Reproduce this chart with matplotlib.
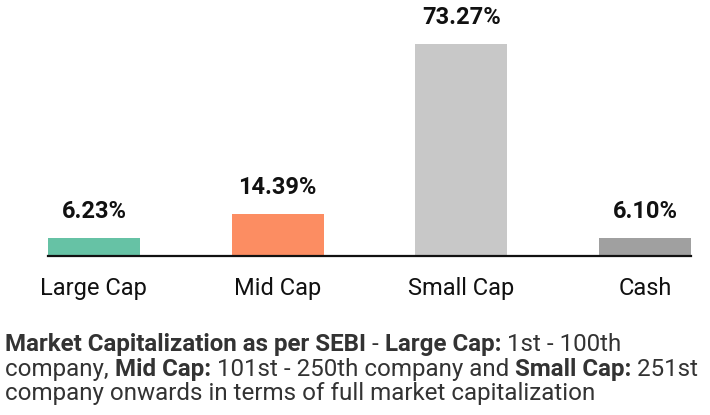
import matplotlib
matplotlib.use("Agg")
import matplotlib.pyplot as plt
from matplotlib import font_manager

categories = ["Large Cap", "Mid Cap", "Small Cap", "Cash"]
weights = [6.23, 14.39, 73.27, 6.10]
labels = ["6.23%", "14.39%", "73.27%", "6.10%"]
colors = ["#66c2a5", "#fc8d62", "#c8c8c8", "#a0a0a0"]

note_lines = [
    [("Market Capitalization as per SEBI", True), (" - ", False), ("Large Cap:", True), (" 1st - 100th", False)],
    [("company, ", False), ("Mid Cap:", True), (" 101st - 250th company and ", False), ("Small Cap:", True), (" 251st", False)],
    [("company onwards in terms of full market capitalization", False)],
]

names = {f.name for f in font_manager.fontManager.ttflist}
fam = "Roboto" if "Roboto" in names else "DejaVu Sans"
plt.rcParams["font.family"] = [fam, "DejaVu Sans"]

fig = plt.figure(figsize=(7.1, 4.15), dpi=100)
ax = fig.add_axes([48 / 710, 159 / 415, 643 / 710, 256 / 415])

x = range(len(categories))
bars = ax.bar(x, weights, width=0.5, color=colors)
ax.set_xlim(-0.25, 3.25)
ax.set_ylim(0, 88.6)

for b, lab in zip(bars, labels):
    ax.annotate(lab, (b.get_x() + b.get_width() / 2, b.get_height()),
                xytext=(0, 11), textcoords="offset points",
                ha="center", va="bottom", fontsize=17, fontweight="bold", color="#111111")

ax.set_xticks(list(x))
ax.set_xticklabels(categories, fontsize=17, color="#111111")
ax.tick_params(axis="x", length=0, pad=15)
ax.set_yticks([])
for s in ["top", "right", "left"]:
    ax.spines[s].set_visible(False)
ax.spines["bottom"].set_linewidth(1.6)
ax.spines["bottom"].set_color("#111111")

# footnote with mixed bold runs, sized so the second line fills the width
fig.canvas.draw()
r = fig.canvas.get_renderer()


def line_width(line, fs):
    w = 0
    for txt, bold in line:
        t = fig.text(0, 0, txt, fontsize=fs, fontweight="bold" if bold else "normal")
        w += t.get_window_extent(renderer=r).width
        t.remove()
    return w


fs = 14 * 698 / line_width(note_lines[1], 14)
fs = min(fs, 18)
y_px = [344, 369, 393]
for line, yp in zip(note_lines, y_px):
    xp = 5
    for txt, bold in line:
        t = fig.text(xp / 710, 1 - yp / 415, txt, fontsize=fs,
                     fontweight="bold" if bold else "normal", color="#333333",
                     ha="left", va="center")
        xp += t.get_window_extent(renderer=r).width

fig.savefig("out.png", dpi=100)
